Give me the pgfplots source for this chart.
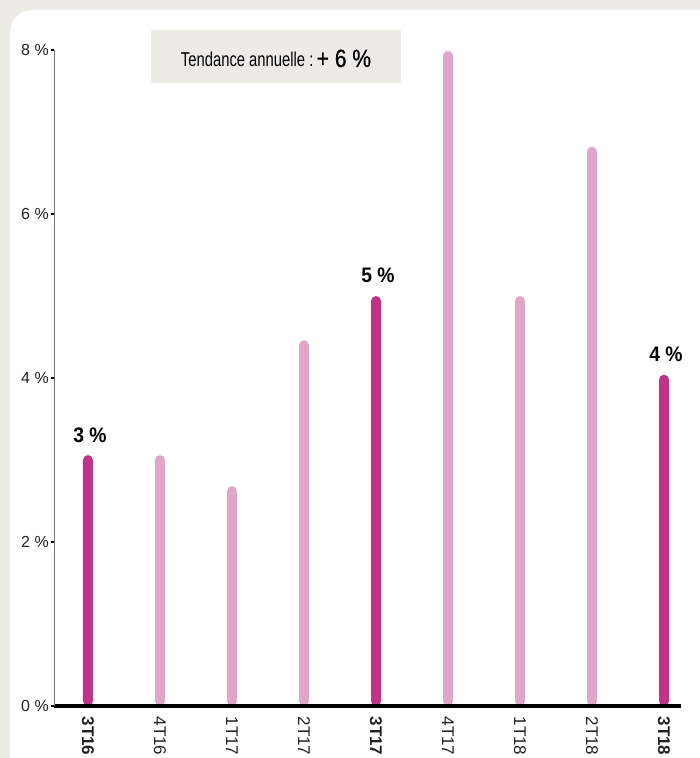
\documentclass[border=0pt]{standalone}
\usepackage{fontspec}
\setmainfont{Liberation Sans}
\newfontfamily\narrowfont[FakeStretch=0.74]{Liberation Sans}
\newfontfamily\semifont[FakeStretch=0.84,FakeBold=0.6]{Liberation Sans}
\newfontfamily\valuefont[FakeStretch=0.92]{Liberation Sans Bold}
\usepackage{pgfplots}
\usepackage{pgfplotstable}
\pgfplotsset{compat=1.18}

\definecolor{panelgrey}{HTML}{EDEBE6}
\definecolor{quarterdark}{HTML}{C13387}
\definecolor{quarterlight}{HTML}{DFA6C8}
\definecolor{ticktext}{HTML}{222222}

% Quarterly growth, same quarter of each year (highlighted)
\pgfplotstableread{
idx value
0 3.06
4 5.00
8 4.04
}\samequarter

% Other quarters
\pgfplotstableread{
idx value
1 3.06
2 2.68
3 4.46
5 7.99
6 5.00
7 6.82
}\otherquarters

\begin{document}
\begin{tikzpicture}
\useasboundingbox (0,0) rectangle (700bp,758bp);
\fill[panelgrey] (0,0) rectangle (700bp,758bp);
\begin{scope}
  \clip (0,0) rectangle (700bp,758bp);
  \fill[white, rounded corners=22bp] (10bp,-30bp) rectangle (730bp,748bp);
\end{scope}
% annual trend box
\fill[panelgrey] (151bp,675bp) rectangle (401bp,728bp);
\node[anchor=base, inner sep=0pt, text=black] at (276bp,691bp)
  {\narrowfont\fontsize{20bp}{22bp}\selectfont Tendance annuelle :\,\semifont\fontsize{25bp}{26bp}\selectfont + 6 \%};

\begin{axis}[
  at={(54bp,52bp)}, anchor=south west,
  scale only axis, width=627bp, height=656bp,
  xmin=-0.472, xmax=8.236, ymin=0, ymax=8,
  axis on top,
  axis x line=bottom, axis y line=left,
  x axis line style={line width=3bp, black, -},
  y axis line style={line width=0.9bp, black!55, -},
  clip=false,
  ybar, bar width=10bp, bar shift=0pt,
  xtick={0,...,8},
  xticklabels={\textbf{3T16},4T16,1T17,2T17,\textbf{3T17},4T17,1T18,2T18,\textbf{3T18}},
  x tick label style={rotate=-90, anchor=west, inner sep=0pt, xshift=7bp,
    font=\fontsize{17bp}{17bp}\selectfont, text=ticktext},
  x tick style={draw=none},
  ytick={0,2,4,6,8},
  yticklabels={0 \%,2 \%,4 \%,6 \%,8 \%},
  y tick label style={font=\fontsize{16bp}{16bp}\selectfont, text=ticktext, inner sep=1.5bp},
  y tick style={line width=2bp, black},
  tick align=outside, major tick length=3.5bp,
  minor tick num=0,
]
\addplot[fill=quarterlight, draw=none, rounded corners=5bp] table[x=idx, y=value] {\otherquarters};
\addplot[fill=quarterdark, draw=none, rounded corners=5bp,
  point meta=y,
  nodes near coords={\pgfmathprintnumber[fixed,precision=0,assume math mode=true]{\pgfplotspointmeta}~\%},
  every node near coord/.append style={anchor=base, inner sep=0pt, yshift=13bp,
    xshift=2bp, text=black, font=\valuefont\fontsize{21bp}{21bp}\selectfont}]
  table[x=idx, y=value] {\samequarter};
\end{axis}
\end{tikzpicture}
\end{document}
